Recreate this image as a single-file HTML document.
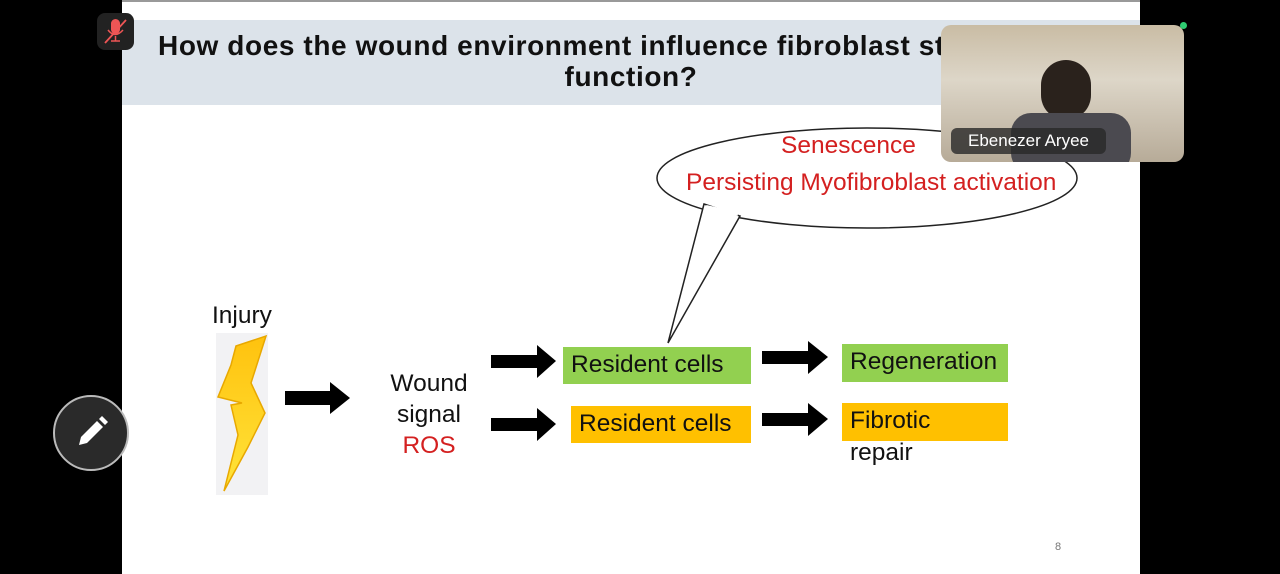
<!DOCTYPE html>
<html><head><meta charset="utf-8"><style>
body{margin:0;width:1280px;height:574px;background:#000;overflow:hidden;font-family:"Liberation Sans",sans-serif;position:relative}
.a{position:absolute;white-space:nowrap}
.t{font-family:"Liberation Sans",sans-serif;font-size:24.5px;color:#111}
</style></head><body>
<div class="a" style="left:122px;top:0;width:1018px;height:574px;background:#fff"></div>
<div class="a" style="left:122px;top:0;width:1018px;height:2px;background:#999"></div>
<div class="a" style="left:122px;top:20px;width:1018px;height:85px;background:#dce3ea"></div>
<div class="a" style="left:158px;top:30px;font-weight:bold;font-size:28px;line-height:31px;color:#111;letter-spacing:0.6px">How does the wound environment influence fibroblast state and</div>
<div class="a" style="left:122px;top:61px;width:1018px;text-align:center;font-weight:bold;font-size:28px;line-height:31px;color:#111;letter-spacing:0.6px">function?</div>
<svg class="a" style="left:0;top:0" width="1280" height="574">
<ellipse cx="867" cy="178" rx="210" ry="50" fill="#fff" stroke="#222" stroke-width="1.5"/>
<polygon points="704,204 740,216 668,343" fill="#fff" stroke="#222" stroke-width="1.5"/>
<line x1="706" y1="207" x2="738" y2="214" stroke="#fff" stroke-width="4"/>
<rect x="216" y="333" width="52" height="162" fill="#f2f2f4"/>
<defs><linearGradient id="g" x1="0" y1="0" x2="0" y2="1"><stop offset="0" stop-color="#ffc20e"/><stop offset="1" stop-color="#ffe43a"/></linearGradient></defs>
<polygon points="236,346 266,336 251,383 265,413 248,447 224,491 238,435 231,405 242,403 218,397 231,365" fill="url(#g)" stroke="#e8a800" stroke-width="1.5"/>
<g fill="#000">
<polygon points="285,391 330,391 330,382 350,398 330,414 330,405 285,405"/>
<polygon points="491,355 537,355 537,345 556,361 537,378 537,368 491,368"/>
<polygon points="491,418 537,418 537,408 556,424 537,441 537,431 491,431"/>
<polygon points="762,351 808,351 808,341 828,357 808,374 808,364 762,364"/>
<polygon points="762,413 808,413 808,403 828,419 808,436 808,426 762,426"/>
</g>
<rect x="563" y="347" width="188" height="37" fill="#92d050"/>
<rect x="842" y="344" width="166" height="38" fill="#92d050"/>
<rect x="571" y="406" width="180" height="37" fill="#ffc000"/>
<rect x="842" y="403" width="166" height="38" fill="#ffc000"/>
</svg>
<div class="a t" style="left:781px;top:132px;color:#d42020">Senescence</div>
<div class="a t" style="left:686px;top:169px;color:#d42020">Persisting Myofibroblast activation</div>
<div class="a t" style="left:212px;top:302px">Injury</div>
<div class="a t" style="left:380px;top:368px;width:98px;text-align:center;line-height:31px">Wound<br>signal<br><span style="color:#d42020">ROS</span></div>
<div class="a t" style="left:571px;top:351px">Resident cells</div>
<div class="a t" style="left:850px;top:348px">Regeneration</div>
<div class="a t" style="left:579px;top:410px">Resident cells</div>
<div class="a t" style="left:850px;top:407px">Fibrotic</div>
<div class="a t" style="left:850px;top:439px">repair</div>
<div class="a" style="left:1055px;top:541px;font-size:11px;color:#777">8</div>
<div class="a" style="left:941px;top:25px;width:243px;height:137px;border-radius:10px;background:linear-gradient(180deg,#c9bca4 0%,#ddd6c8 40%,#b7ab98 100%);overflow:hidden">
<div class="a" style="left:100px;top:35px;width:50px;height:60px;border-radius:25px;background:#2a221c"></div>
<div class="a" style="left:70px;top:88px;width:120px;height:60px;border-radius:20px;background:#4b4a50"></div>
<div class="a" style="left:10px;top:103px;width:155px;height:26px;border-radius:6px;background:rgba(40,40,40,.8);color:#fff;font-size:17px;line-height:26px;text-align:center">Ebenezer Aryee</div>
</div>
<div class="a" style="left:1180px;top:22px;width:7px;height:7px;border-radius:4px;background:#2ecc71"></div>
<div class="a" style="left:97px;top:13px;width:37px;height:37px;border-radius:8px;background:#222"></div>
<svg class="a" style="left:97px;top:13px" width="37" height="37"><rect x="14" y="6" width="9" height="15" rx="4.5" fill="#e55"/><path d="M11 17 q7 9 15 0 M18.5 23 v5 M14 28 h9" stroke="#e55" stroke-width="1.5" fill="none"/><line x1="8" y1="30" x2="29" y2="7" stroke="#e55" stroke-width="1.8"/></svg>
<div class="a" style="left:53px;top:395px;width:72px;height:72px;border-radius:50%;background:#2a2a2a;border:2px solid #bbb"></div>
<svg class="a" style="left:53px;top:395px" width="76" height="76"><polygon points="26,50 28,42 44,26 50,32 34,48" fill="#fff"/><polygon points="46,24 49,21 55,27 52,30" fill="#fff"/></svg>
</body></html>
